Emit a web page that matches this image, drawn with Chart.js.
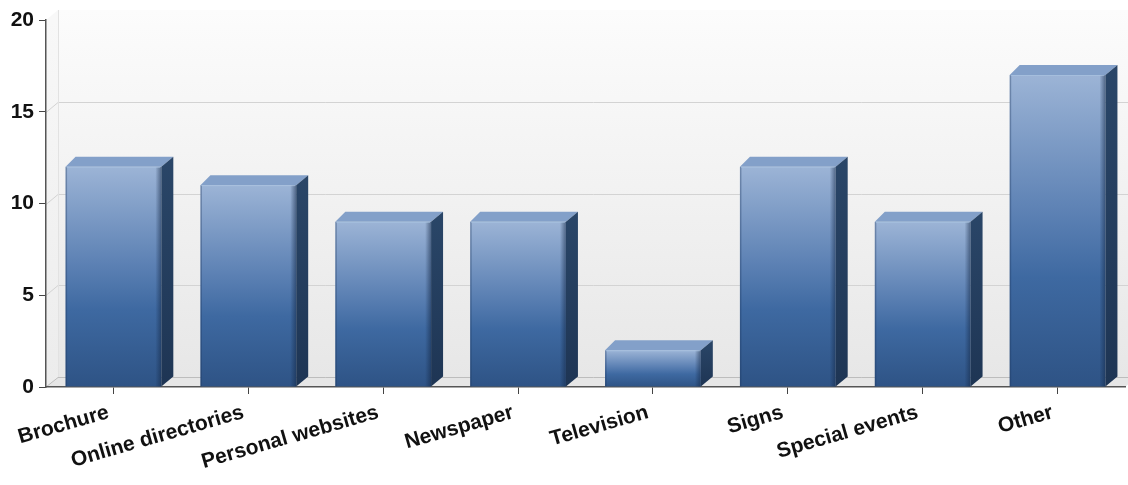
<!DOCTYPE html>
<html>
<head>
<meta charset="utf-8">
<title>Sources</title>
<script src="https://cdn.jsdelivr.net/npm/chart.js@4.4.1/dist/chart.umd.min.js"></script>
<style>
  html, body { margin: 0; padding: 0; background: #fff; }
  #wrap { width: 1128px; height: 485px; }
</style>
</head>
<body>
<div id="wrap"><canvas id="chart" width="1128" height="485"></canvas></div>
<script>
// data
const categories = ['Brochure', 'Online directories', 'Personal websites', 'Newspaper',
                    'Television', 'Signs', 'Special events', 'Other'];
const counts = [12, 11, 9, 9, 2, 12, 9, 17];
const yMin = 0;
const yMax = 20;
const yStep = 5;

// depth of the fake 3d box
const DX = 12, DY = -10;
const FONT = { family: '"Liberation Sans", Arial, sans-serif', size: 21, weight: 'bold' };

// back wall, left wall, floor and the grid painted on them
const wallsPlugin = {
    id: 'walls',
    beforeDraw(chart) {
        const { ctx, chartArea: a, scales: { y } } = chart;
        const bottom = y.getPixelForValue(yMin);
        const top = y.getPixelForValue(yMax);
        ctx.save();

        const back = ctx.createLinearGradient(0, top + DY, 0, bottom + DY);
        back.addColorStop(0, '#fcfcfc');
        back.addColorStop(1, '#e7e7e7');
        ctx.fillStyle = back;
        ctx.fillRect(a.left + DX, top + DY, a.right - a.left, bottom - top);

        const side = ctx.createLinearGradient(0, top, 0, bottom);
        side.addColorStop(0, '#f8f8f8');
        side.addColorStop(1, '#ececec');
        ctx.fillStyle = side;
        ctx.beginPath();
        ctx.moveTo(a.left, top);
        ctx.lineTo(a.left + DX, top + DY);
        ctx.lineTo(a.left + DX, bottom + DY);
        ctx.lineTo(a.left, bottom);
        ctx.closePath();
        ctx.fill();

        ctx.fillStyle = '#e6e6e6';
        ctx.beginPath();
        ctx.moveTo(a.left, bottom);
        ctx.lineTo(a.left + DX, bottom + DY);
        ctx.lineTo(a.right + DX, bottom + DY);
        ctx.lineTo(a.right, bottom);
        ctx.closePath();
        ctx.fill();

        ctx.lineWidth = 1;
        ctx.strokeStyle = '#d3d3d3';
        y.ticks.forEach(t => {
            if (t.value <= yMin || t.value >= yMax) return;
            const py = Math.round(y.getPixelForValue(t.value)) + 0.5;
            ctx.beginPath();
            ctx.moveTo(a.left, py);
            ctx.lineTo(a.left + DX, py + DY);
            ctx.lineTo(a.right + DX, py + DY);
            ctx.stroke();
        });

        // floor edges
        ctx.strokeStyle = '#bdbdbd';
        ctx.beginPath();
        ctx.moveTo(a.left, bottom);
        ctx.lineTo(a.left + DX, bottom + DY + 0.5);
        ctx.lineTo(a.right + DX, bottom + DY + 0.5);
        ctx.stroke();
        ctx.strokeStyle = '#e2e2e2';
        ctx.beginPath();
        ctx.moveTo(a.left + DX + 0.5, top + DY);
        ctx.lineTo(a.left + DX + 0.5, bottom + DY);
        ctx.stroke();
        ctx.restore();
    }
};

// top and right faces of each bar
const boxPlugin = {
    id: 'box',
    afterDatasetsDraw(chart) {
        const ctx = chart.ctx;
        chart.getDatasetMeta(0).data.forEach(bar => {
            const { x, y, base, width } = bar.getProps(['x', 'y', 'base', 'width'], true);
            const l = x - width / 2, r = x + width / 2;
            ctx.save();

            // shading along the right edge of the front
            const edge = ctx.createLinearGradient(r - 6, 0, r, 0);
            edge.addColorStop(0, 'rgba(20,40,70,0)');
            edge.addColorStop(1, 'rgba(20,40,70,0.55)');
            ctx.fillStyle = edge;
            ctx.fillRect(r - 6, y, 6, base - y);
            ctx.fillStyle = 'rgba(30,55,95,0.35)';
            ctx.fillRect(l, y, 1.5, base - y);

            ctx.fillStyle = '#83a0c9';
            ctx.beginPath();
            ctx.moveTo(l, y);
            ctx.lineTo(l + DX - 2, y + DY);
            ctx.lineTo(r + DX, y + DY);
            ctx.lineTo(r, y);
            ctx.closePath();
            ctx.fill();
            ctx.strokeStyle = 'rgba(170,195,225,0.7)';
            ctx.lineWidth = 1;
            ctx.beginPath();
            ctx.moveTo(l + 1, y + 0.5);
            ctx.lineTo(r - 1, y + 0.5);
            ctx.stroke();

            const sg = ctx.createLinearGradient(0, y + DY, 0, base);
            sg.addColorStop(0, '#2a4668');
            sg.addColorStop(1, '#1e3554');
            ctx.fillStyle = sg;
            ctx.beginPath();
            ctx.moveTo(r, y);
            ctx.lineTo(r + DX, y + DY);
            ctx.lineTo(r + DX, base + DY);
            ctx.lineTo(r, base);
            ctx.closePath();
            ctx.fill();
            ctx.restore();
        });
    }
};

function frontFill(context) {
    const chart = context.chart;
    const y = chart.scales.y;
    if (!y || context.raw == null) return '#3c67a0';
    const top = y.getPixelForValue(context.raw);
    const base = y.getPixelForValue(yMin);
    if (!isFinite(top) || !isFinite(base) || top === base) return '#3c67a0';
    const g = chart.ctx.createLinearGradient(0, top, 0, base);
    g.addColorStop(0, '#9cb4d6');
    g.addColorStop(0.45, '#5b80b3');
    g.addColorStop(0.65, '#3e69a1');
    g.addColorStop(1, '#2e5385');
    return g;
}

new Chart(document.getElementById('chart'), {
    type: 'bar',
    data: {
        labels: categories,
        datasets: [{
            data: counts,
            backgroundColor: frontFill,
            borderWidth: 0,
            barPercentage: 0.71,
            categoryPercentage: 1
        }]
    },
    options: {
        responsive: false,
        animation: false,
        layout: { padding: { top: 20, right: 3, left: 0, bottom: 0 } },
        plugins: {
            legend: { display: false },
            tooltip: { enabled: false }
        },
        scales: {
            x: {
                grid: { offset: false, drawOnChartArea: false, drawTicks: true, tickLength: 7, color: '#444' },
                border: { display: true, color: '#555', width: 1.5 },
                ticks: {
                    font: FONT,
                    color: '#111',
                    autoSkip: false,
                    maxRotation: 16,
                    minRotation: 16,
                    padding: 6,
                    labelOffset: -5
                },
                afterFit(scale) { scale.height = 98; }
            },
            y: {
                min: yMin,
                max: yMax,
                grid: { drawOnChartArea: false, drawTicks: true, tickLength: 7, color: '#444' },
                border: { display: true, color: '#555', width: 1.5 },
                ticks: { stepSize: yStep, font: FONT, color: '#111', padding: 5 },
                afterFit(scale) { scale.width = 46; }
            }
        }
    },
    plugins: [wallsPlugin, boxPlugin]
});
</script>
</body>
</html>
